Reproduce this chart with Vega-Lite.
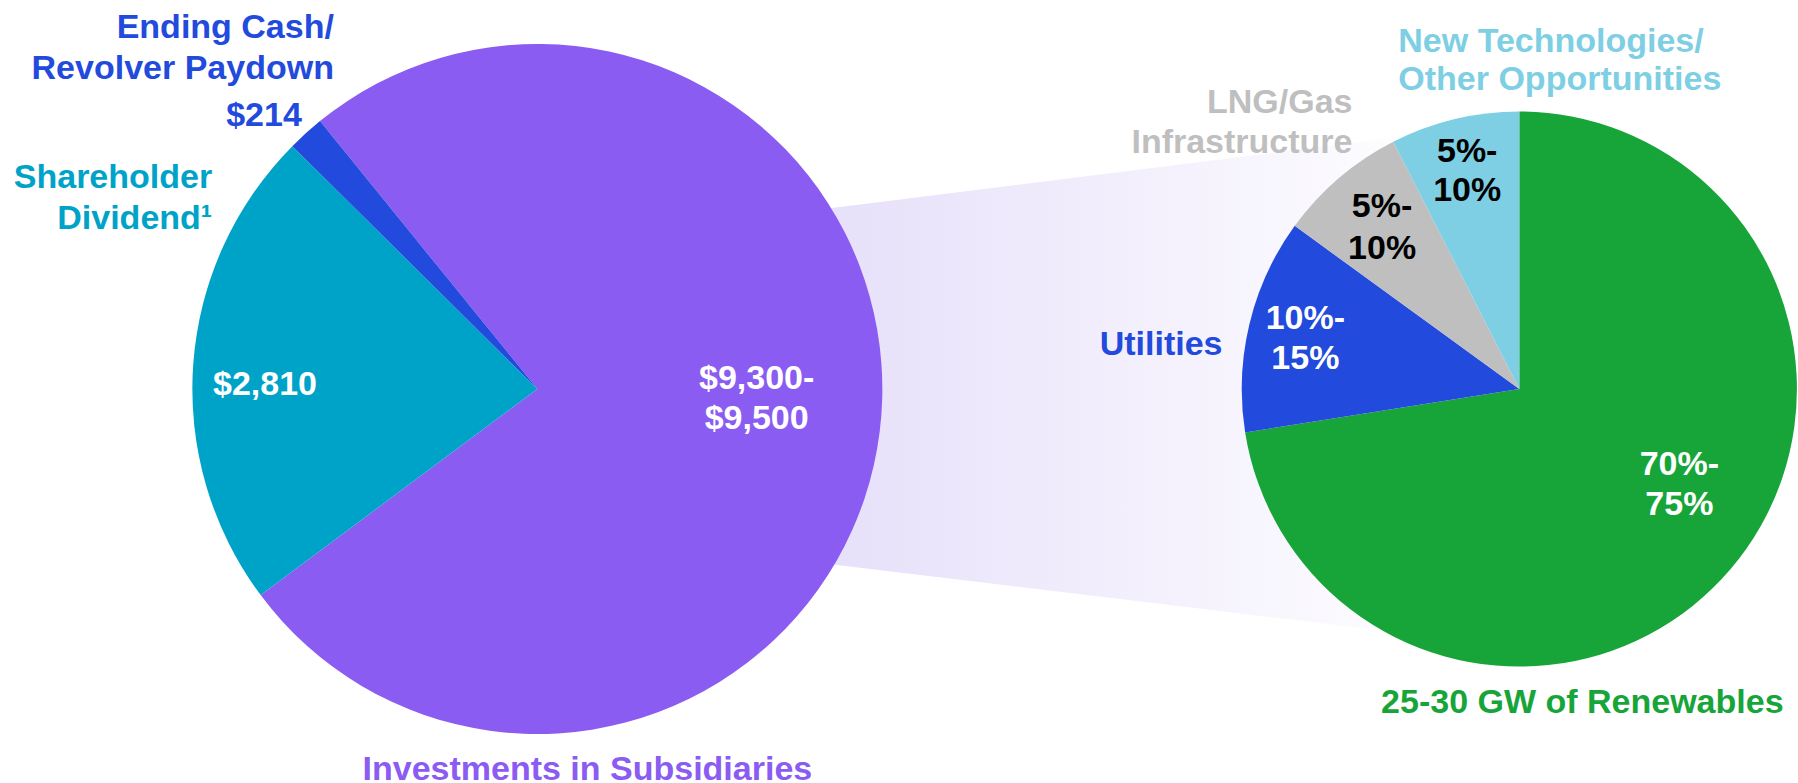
{
  "$schema": "https://vega.github.io/schema/vega-lite/v6.json",
  "width": 1798,
  "height": 778,
  "autosize": {"type": "none"},
  "padding": {"left": 0, "top": 0, "right": 0, "bottom": 5},
  "background": "white",
  "config": {
    "view": {"stroke": null},
    "text": {"font": "Liberation Sans", "fontSize": 34, "fontWeight": "bold", "lineHeight": 40, "lineBreak": "\n"}
  },
  "datasets": {
    "sources": [
      {"pie": "Sources of Cash", "slice": "Investments in Subsidiaries", "value": 9400, "rank": 1, "label": "$9,300-\n$9,500", "name": "Investments in Subsidiaries"},
      {"pie": "Sources of Cash", "slice": "Shareholder Dividend", "value": 2810, "rank": 2, "label": "$2,810", "name": "Shareholder\nDividend¹"},
      {"pie": "Sources of Cash", "slice": "Ending Cash/Revolver Paydown", "value": 214, "rank": 3, "label": "$214", "name": "Ending Cash/\nRevolver Paydown"}
    ],
    "allocation": [
      {"pie": "Investment Allocation", "slice": "Renewables", "value": 72.5, "rank": 1, "label": "70%-\n75%", "name": "25-30 GW of Renewables"},
      {"pie": "Investment Allocation", "slice": "Utilities", "value": 12.5, "rank": 2, "label": "10%-\n15%", "name": "Utilities"},
      {"pie": "Investment Allocation", "slice": "LNG/Gas Infrastructure", "value": 7.5, "rank": 3, "label": "5%-\n10%", "name": "LNG/Gas\nInfrastructure"},
      {"pie": "Investment Allocation", "slice": "New Technologies/Other Opportunities", "value": 7.5, "rank": 4, "label": "5%-\n10%", "name": "New Technologies/\nOther Opportunities"}
    ],
    "connector": [
      {"pie": "Sources of Cash", "upper": 245, "lower": 529},
      {"pie": "Investment Allocation", "upper": 122, "lower": 647}
    ]
  },
  "encoding": {
    "x": {
      "field": "pie",
      "type": "ordinal",
      "scale": {"type": "point", "domain": ["Sources of Cash", "Investment Allocation"], "padding": 0.4155, "align": 0.6585},
      "axis": null
    }
  },
  "layer": [
    {
      "data": {"name": "connector"},
      "mark": {
        "type": "area",
        "color": {
          "gradient": "linear", "x1": 0, "x2": 1, "y1": 0, "y2": 0,
          "stops": [
            {"offset": 0.3, "color": "#e7e0fa"},
            {"offset": 0.93, "color": "#ffffff"}
          ]
        }
      },
      "encoding": {
        "y": {"field": "upper", "type": "quantitative", "scale": {"domain": [0, 778], "reverse": true}, "axis": null},
        "y2": {"field": "lower"}
      }
    },
    {
      "data": {"name": "sources"},
      "encoding": {
        "theta": {"field": "value", "type": "quantitative", "stack": true, "scale": {"range": [-0.6816, 5.6016]}},
        "order": {"field": "rank", "type": "quantitative"},
        "detail": {"field": "slice", "type": "nominal"}
      },
      "layer": [
        {
          "mark": {"type": "arc", "outerRadius": 345},
          "encoding": {
            "color": {
              "field": "slice", "type": "nominal", "legend": null,
              "scale": {"domain": ["Investments in Subsidiaries", "Shareholder Dividend", "Ending Cash/Revolver Paydown"], "range": ["#8b5cf1", "#00a3c8", "#224adc"]}
            }
          }
        },
        {
          "mark": {"type": "text", "radius": 220, "dx": 1, "dy": -37, "align": "center", "baseline": "middle", "color": "white"},
          "encoding": {"text": {"condition": {"test": "datum.rank === 1", "field": "label"}, "value": ""}}
        },
        {
          "mark": {"type": "text", "radius": 273, "dx": 0, "dy": 15, "align": "center", "baseline": "middle", "color": "white"},
          "encoding": {"text": {"condition": {"test": "datum.rank === 2", "field": "label"}, "value": ""}}
        },
        {
          "mark": {"type": "text", "radius": 388, "dx": -13, "dy": 15, "align": "center", "baseline": "middle", "color": "#224adc"},
          "encoding": {"text": {"condition": {"test": "datum.rank === 3", "field": "label"}, "value": ""}}
        },
        {
          "mark": {"type": "text", "radius": 400, "dx": 65, "dy": -64, "align": "right", "baseline": "middle", "color": "#224adc", "lineHeight": 41},
          "encoding": {"text": {"condition": {"test": "datum.rank === 3", "field": "name"}, "value": ""}}
        },
        {
          "mark": {"type": "text", "radius": 330, "dx": 4, "dy": -188, "align": "right", "baseline": "middle", "color": "#00a3c8", "lineHeight": 41},
          "encoding": {"text": {"condition": {"test": "datum.rank === 2", "field": "name"}, "value": ""}}
        },
        {
          "mark": {"type": "text", "radius": 0, "dx": 50, "dy": 381, "align": "center", "baseline": "middle", "color": "#8b5cf1"},
          "encoding": {"text": {"condition": {"test": "datum.rank === 1", "field": "name"}, "value": ""}}
        }
      ]
    },
    {
      "data": {"name": "allocation"},
      "encoding": {
        "theta": {"field": "value", "type": "quantitative", "stack": true, "scale": {"range": [0, 6.2832]}},
        "order": {"field": "rank", "type": "quantitative"},
        "detail": {"field": "slice", "type": "nominal"}
      },
      "layer": [
        {
          "mark": {"type": "arc", "outerRadius": 277.6},
          "encoding": {
            "color": {
              "field": "slice", "type": "nominal", "legend": null,
              "scale": {"domain": ["Renewables", "Utilities", "LNG/Gas Infrastructure", "New Technologies/Other Opportunities"], "range": ["#17a539", "#224adc", "#bfbfbf", "#7ecfe3"]}
            }
          }
        },
        {
          "mark": {"type": "text", "radius": 185.5, "dx": 19, "dy": -44, "align": "center", "baseline": "middle", "color": "white"},
          "encoding": {"text": {"condition": {"test": "datum.rank === 1", "field": "label"}, "value": ""}}
        },
        {
          "mark": {"type": "text", "radius": 219, "dx": -1, "dy": -19, "align": "center", "baseline": "middle", "color": "white"},
          "encoding": {"text": {"condition": {"test": "datum.rank === 2", "field": "label"}, "value": ""}}
        },
        {
          "mark": {"type": "text", "radius": 219, "dx": 5, "dy": -15, "align": "center", "baseline": "middle", "color": "black", "lineHeight": 42},
          "encoding": {"text": {"condition": {"test": "datum.rank === 3", "field": "label"}, "value": ""}}
        },
        {
          "mark": {"type": "text", "radius": 219, "dx": -1, "dy": -24, "align": "center", "baseline": "middle", "color": "black", "lineHeight": 39},
          "encoding": {"text": {"condition": {"test": "datum.rank === 4", "field": "label"}, "value": ""}}
        },
        {
          "mark": {"type": "text", "radius": 0, "dx": 63, "dy": 314, "align": "center", "baseline": "middle", "color": "#17a539"},
          "encoding": {"text": {"condition": {"test": "datum.rank === 1", "field": "name"}, "value": ""}}
        },
        {
          "mark": {"type": "text", "radius": 295, "dx": -10, "dy": 25, "align": "right", "baseline": "middle", "color": "#224adc"},
          "encoding": {"text": {"condition": {"test": "datum.rank === 2", "field": "name"}, "value": ""}}
        },
        {
          "mark": {"type": "text", "radius": 300, "dx": 28, "dy": -58, "align": "right", "baseline": "middle", "color": "#bfbfbf"},
          "encoding": {"text": {"condition": {"test": "datum.rank === 3", "field": "name"}, "value": ""}}
        },
        {
          "mark": {"type": "text", "radius": 300, "dx": -51, "dy": -55, "align": "left", "baseline": "middle", "color": "#7ecfe3", "lineHeight": 38},
          "encoding": {"text": {"condition": {"test": "datum.rank === 4", "field": "name"}, "value": ""}}
        }
      ]
    }
  ],
  "resolve": {"scale": {"theta": "independent", "color": "independent"}}
}
